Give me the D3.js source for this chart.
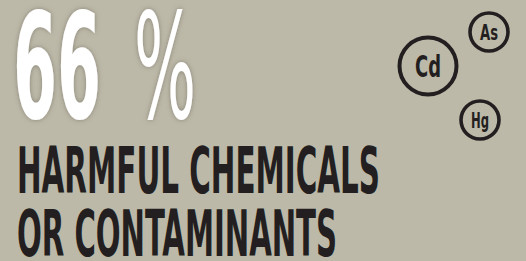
<!DOCTYPE html>
<html>
<head>
<meta charset="utf-8">
<script src="https://cdn.jsdelivr.net/npm/d3@7"></script>
<style>
  html, body { margin: 0; padding: 0; background: #bdb9a9; }
  svg { display: block; }
</style>
</head>
<body>
<div id="chart"></div>
<script>
// values
const percent = [66];
const labelLines = ["HARMFUL CHEMICALS", "OR CONTAMINANTS"];
const elements = ["Cd", "As", "Hg"];
const elementSize = [3, 2, 2]; // relative size of each badge

var width = 526, height = 261;

var svg = d3.select("#chart").append("svg")
  .attr("width", width)
  .attr("height", height);

svg.append("rect").attr("width", width).attr("height", height).attr("fill", "#bdb9a9");

// soft shadow for the big number
var defs = svg.append("defs");
var f = defs.append("filter").attr("id", "shadow").attr("x", "-20%").attr("y", "-20%").attr("width", "140%").attr("height", "140%");
f.append("feDropShadow").attr("dx", 0).attr("dy", 0).attr("stdDeviation", 2.5)
  .attr("flood-color", "#5a5548").attr("flood-opacity", 0.55);

var font = "'DejaVu Sans Condensed', 'DejaVu Sans', sans-serif";

// big percentage
var big = svg.append("g").attr("filter", "url(#shadow)").attr("fill", "#ffffff")
  .style("font-family", font).style("font-size", "146px").style("font-weight", "bold");
big.append("text").attr("x", 13).attr("y", 118)
  .attr("textLength", 88).attr("lengthAdjust", "spacingAndGlyphs")
  .text(percent[0]);
big.append("text").attr("x", 134).attr("y", 118)
  .attr("textLength", 62).attr("lengthAdjust", "spacingAndGlyphs")
  .style("font-weight", "normal")
  .text("%");

// label lines
var lineY = d3.scaleBand().domain(d3.range(labelLines.length)).range([130, 256]);
var lineW = [363, 320];
svg.selectAll("text.label").data(labelLines).enter().append("text")
  .attr("class", "label")
  .attr("x", 17)
  .attr("y", function(d, i){ return lineY(i) + lineY.bandwidth(); })
  .attr("textLength", function(d, i){ return lineW[i]; })
  .attr("lengthAdjust", "spacingAndGlyphs")
  .attr("fill", "#231f20")
  .style("font-family", font).style("font-size", "64px").style("font-weight", "bold")
  .text(function(d){ return d; });

// element badges
var pos = [{x: 428, y: 66}, {x: 489, y: 32}, {x: 480, y: 120}];
var rScale = d3.scaleLinear().domain([2, 3]).range([19, 28.5]);
var badge = svg.selectAll("g.badge").data(elements).enter().append("g")
  .attr("class", "badge")
  .attr("transform", function(d, i){ return "translate(" + pos[i].x + "," + pos[i].y + ")"; });
badge.append("circle")
  .attr("r", function(d, i){ return rScale(elementSize[i]); })
  .attr("fill", "none").attr("stroke", "#231f20")
  .attr("stroke-width", function(d, i){ return elementSize[i] == 3 ? 4 : 3.6; });
badge.append("text")
  .attr("text-anchor", "middle")
  .attr("y", function(d, i){ return elementSize[i] == 3 ? 11 : 8; })
  .attr("textLength", function(d, i){ return elementSize[i] == 3 ? 26 : 18; })
  .attr("lengthAdjust", "spacingAndGlyphs")
  .attr("fill", "#231f20")
  .style("font-family", font).style("font-weight", "bold")
  .style("font-size", function(d, i){ return elementSize[i] == 3 ? "30px" : "22px"; })
  .text(function(d){ return d; });
</script>
</body>
</html>
